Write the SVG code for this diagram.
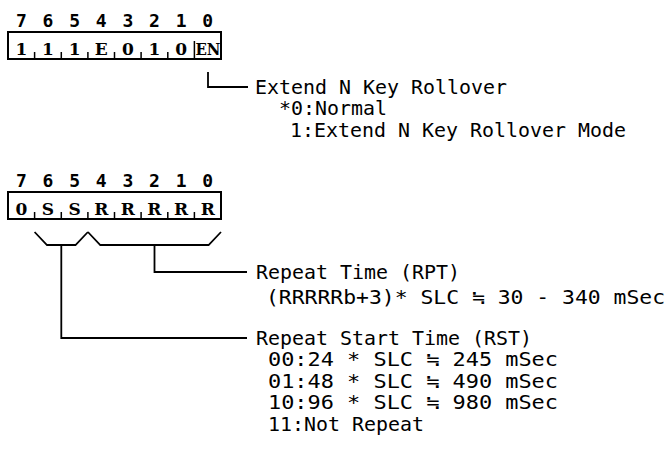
<svg xmlns="http://www.w3.org/2000/svg" width="667" height="450" viewBox="0 0 667 450">
<style>
.bg{fill:#fff}
.box{fill:none;stroke:#000;stroke-width:2}
.tick{stroke:#000;stroke-width:1.5}
.ln{fill:none;stroke:#000;stroke-width:1.8}
.bit{font-family:"DejaVu Sans Mono","Liberation Mono",monospace;font-weight:bold;font-size:18px;text-anchor:middle;fill:#000}
.cell{font-family:"DejaVu Serif","Liberation Serif",serif;font-weight:bold;font-size:17px;text-anchor:middle;fill:#000}
.t{font-family:"DejaVu Sans Mono","Noto Sans CJK JP",monospace;font-size:19px;fill:#000}
</style>
<rect class="bg" x="0" y="0" width="667" height="450"/>
<g id="reg1">
<text class="bit" x="21.3" y="27">7</text><text class="bit" x="47.9" y="27">6</text><text class="bit" x="74.6" y="27">5</text><text class="bit" x="101.2" y="27">4</text><text class="bit" x="127.8" y="27">3</text><text class="bit" x="154.4" y="27">2</text><text class="bit" x="181.1" y="27">1</text><text class="bit" x="207.7" y="27">0</text>
<rect class="box" x="8" y="32" width="213" height="27"/>
<path class="tick" d="M34.6,52V59M61.3,52V59M87.9,52V59M114.5,52V59M141.1,52V59M167.8,52V59M194.4,41V59"/>
<text class="cell" x="21.3" y="55">1</text><text class="cell" x="47.9" y="55">1</text><text class="cell" x="74.6" y="55">1</text><text class="cell" x="101.2" y="55">E</text><text class="cell" x="127.8" y="55">0</text><text class="cell" x="154.4" y="55">1</text><text class="cell" x="181.1" y="55">0</text><text class="cell" x="208" y="55" textLength="25" lengthAdjust="spacingAndGlyphs">EN</text>
</g>
<g id="desc1">
<text class="t" x="255" y="94" textLength="252" lengthAdjust="spacingAndGlyphs">Extend N Key Rollover</text>
<text class="t" x="279" y="115" textLength="108" lengthAdjust="spacingAndGlyphs">*0:Normal</text>
<text class="t" x="290" y="137" textLength="336" lengthAdjust="spacingAndGlyphs">1:Extend N Key Rollover Mode</text>
</g>
<g id="reg2">
<text class="bit" x="21.3" y="187">7</text><text class="bit" x="47.9" y="187">6</text><text class="bit" x="74.6" y="187">5</text><text class="bit" x="101.2" y="187">4</text><text class="bit" x="127.8" y="187">3</text><text class="bit" x="154.4" y="187">2</text><text class="bit" x="181.1" y="187">1</text><text class="bit" x="207.7" y="187">0</text>
<rect class="box" x="8" y="192" width="213" height="27"/>
<path class="tick" d="M34.6,212V219M61.3,212V219M87.9,212V219M114.5,212V219M141.1,212V219M167.8,212V219M194.4,212V219"/>
<text class="cell" x="21.3" y="215">0</text><text class="cell" x="47.9" y="215">S</text><text class="cell" x="74.6" y="215">S</text><text class="cell" x="101.2" y="215">R</text><text class="cell" x="127.8" y="215">R</text><text class="cell" x="154.4" y="215">R</text><text class="cell" x="181.1" y="215">R</text><text class="cell" x="207.7" y="215">R</text>
</g>
<g id="rpt">
<text class="t" x="256" y="279" textLength="204" lengthAdjust="spacingAndGlyphs">Repeat Time (RPT)</text>
<text class="t" x="266" y="304" textLength="399" lengthAdjust="spacingAndGlyphs">(RRRRRb+3)* SLC ≒ 30 - 340 mSec</text>
</g>
<g id="rst">
<text class="t" x="256" y="345" textLength="276" lengthAdjust="spacingAndGlyphs">Repeat Start Time (RST)</text>
<text class="t" x="268" y="366" textLength="290" lengthAdjust="spacingAndGlyphs">00:24 * SLC ≒ 245 mSec</text>
<text class="t" x="268" y="388" textLength="290" lengthAdjust="spacingAndGlyphs">01:48 * SLC ≒ 490 mSec</text>
<text class="t" x="268" y="409" textLength="290" lengthAdjust="spacingAndGlyphs">10:96 * SLC ≒ 980 mSec</text>
<text class="t" x="268" y="431" textLength="156" lengthAdjust="spacingAndGlyphs">11:Not Repeat</text>
</g>
<g id="connectors">
<path class="ln" d="M208,72V87H248"/>
<path class="ln" d="M34.6,232L47,245H75.5L87.9,232M87.9,232L100.3,245H208.6L221,232"/>
<path class="ln" d="M154.5,245V272H247"/>
<path class="ln" d="M61.3,245V338H247"/>
</g>
</svg>
